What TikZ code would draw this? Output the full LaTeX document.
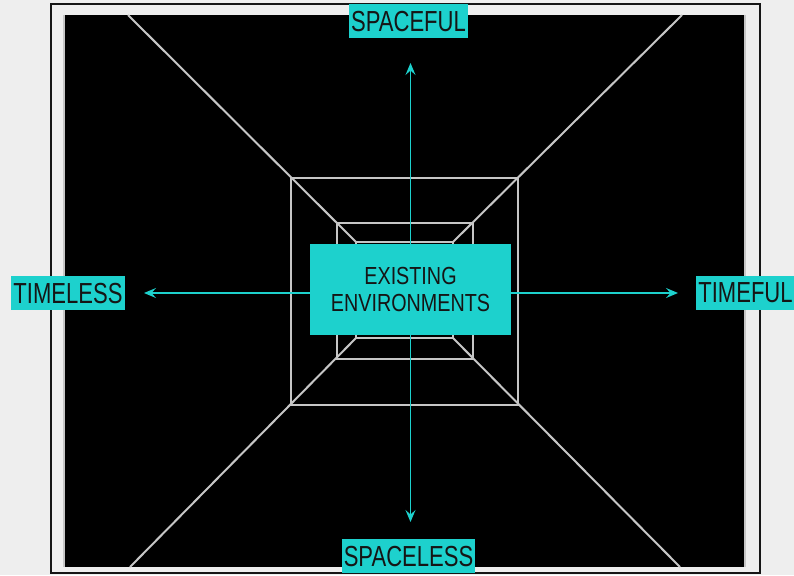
\documentclass[tikz,border=0pt]{standalone}
\usepackage{fontspec}
\usepackage{xcolor}
\usepackage{tikz}
\usetikzlibrary{arrows.meta,positioning}
\setmainfont{Liberation Sans}
\newfontfamily\tagfont{Liberation Sans}[FakeStretch=0.76]
\newfontfamily\corefont{Liberation Sans}[FakeStretch=0.8]
\definecolor{paper}{HTML}{EEEEEE}
\definecolor{cyanfill}{HTML}{1DD1CD}
\definecolor{inkdark}{HTML}{151515}
\definecolor{wiregray}{HTML}{C6C6C6}

\begin{document}
\begin{tikzpicture}[x=1pt, y=-1pt,
  tag/.style={fill=cyanfill, text=inkdark, font=\tagfont\fontsize{29}{29}\selectfont, inner xsep=2pt, inner ysep=7pt, text depth=0pt},
  core/.style={fill=cyanfill, text=inkdark, font=\corefont\fontsize{24.7}{26.7}\selectfont, align=center, minimum width=201pt, minimum height=91pt},
  wire/.style={draw=wiregray, line width=2pt},
  axis/.style={draw=cyanfill, line width=1.5pt, -{Stealth[length=12pt, width=10pt, inset=4.5pt]}}
]
\useasboundingbox (0,0) rectangle (794,575);
\fill[paper] (0,0) rectangle (794,575);
\draw[inkdark, line width=2pt] (51,4) rectangle (760,573);
\fill[black] (64,15) rectangle (745,567);
\draw[wiregray, line width=2pt] (64,15) -- (64,567) (745,15) -- (745,567);

\foreach \xa/\ya/\xb/\yb in {128/15/356/242, 682/15/453/242, 130/567/356/338, 680/567/453/338}
  \draw[wire] (\xa,\ya) -- (\xb,\yb);
\foreach \xa/\ya/\xb/\yb in {291/178/518/405, 337/223/473/359, 356/242/453/338}
  \draw[wire] (\xa,\ya) rectangle (\xb,\yb);

\node[core] (env) at (410.5,289.5) {EXISTING\\[-0.5pt]ENVIRONMENTS};

\coordinate (up) at (410.5,63);
\coordinate (down) at (410.5,522);
\coordinate (left) at (144,293);
\coordinate (right) at (678,293);
\draw[axis] (env.north) -- (up);
\draw[axis] (env.south) -- (down);
\draw[axis] (env.west |- left) -- (left);
\draw[axis] (env.east |- right) -- (right);

\node[tag] (spaceful) at (408.5,21) {SPACEFUL};
\node[tag] (spaceless) at (408.5,556) {SPACELESS};
\node[tag] (timeless) at (68,293) {TIMELESS};
\node[tag] (timeful) at (745.5,293) {TIMEFUL};
\end{tikzpicture}
\end{document}
